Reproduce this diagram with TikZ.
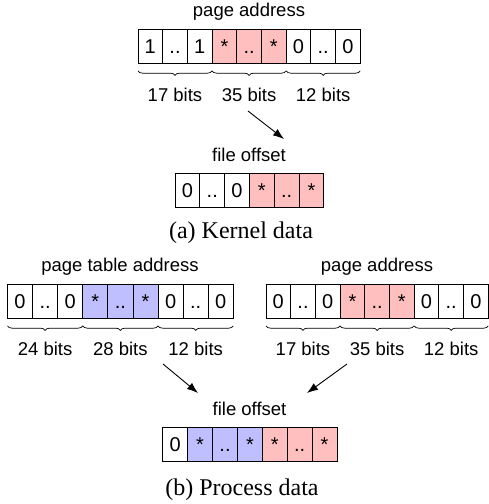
\documentclass[tikz,border=0pt]{standalone}
\usepackage{fontspec}
\setmainfont{Liberation Serif}
\setsansfont{Liberation Sans}
\usetikzlibrary{decorations.pathreplacing,arrows.meta}
\definecolor{pinkc}{HTML}{FFBFBF}
\definecolor{bluec}{HTML}{BFBFFF}
\begin{document}
\begin{tikzpicture}[x=1pt,y=-1pt,
  cell/.style={draw, line width=0.9pt, minimum height=34pt, inner sep=0pt,
    font=\sffamily\fontsize{20}{20}\selectfont, text height=14.4pt, text depth=0pt, anchor=north west},
  lbl/.style={font=\sffamily\fontsize{18.5}{18.5}\selectfont, inner sep=0pt},
  captext/.style={font=\rmfamily\fontsize{24}{24}\selectfont, inner sep=0pt},
  brc/.style={decorate, decoration={brace, mirror, amplitude=4.5pt}, line width=0.7pt},
  arr/.style={-{Latex[length=11pt,width=8pt]}, line width=0.9pt}]
\useasboundingbox (0,0) rectangle (488,504);
% ---------- (a) kernel data ----------
\node[lbl] (pa) at (249,12) {page address};
\foreach \t/\f [count=\i] in {1/white,../white,1/white,*/pinkc,../pinkc,*/pinkc,0/white,../white,0/white}
  \node[cell, fill=\f, minimum width=24.7pt] (a\i) at ({137.5+(\i-1)*24.7},29) {\t};
\draw[brc] ([xshift=0.5pt,yshift=-7pt]a1.south west) -- ([xshift=-0.5pt,yshift=-7pt]a3.south east);
\draw[brc] ([xshift=0.5pt,yshift=-7pt]a4.south west) -- ([xshift=-0.5pt,yshift=-7pt]a6.south east);
\draw[brc] ([xshift=0.5pt,yshift=-7pt]a7.south west) -- ([xshift=-0.5pt,yshift=-7pt]a9.south east);
\node[lbl] (ab1) at ([yshift=-31pt]a2.south) {17 bits};
\node[lbl] (ab2) at ([yshift=-31pt]a5.south) {35 bits};
\node[lbl] (ab3) at ([yshift=-31pt]a8.south) {12 bits};
\node[lbl] (fa) at (249,155) {file offset};
\foreach \t/\f [count=\i] in {0/white,../white,0/white,*/pinkc,../pinkc,*/pinkc}
  \node[cell, fill=\f, minimum width=24.8pt] (c\i) at ({174.6+(\i-1)*24.8},173) {\t};
\coordinate (ka1) at (248,111);
\coordinate (ka2) at (284,139);
\draw[arr] (ka1) -- (ka2);
\node[captext] (capa) at (241,233) {(a) Kernel data};
% ---------- (b) process data ----------
\node[lbl] (pta) at (120,267) {page table address};
\foreach \t/\f [count=\i] in {0/white,../white,0/white,*/bluec,../bluec,*/bluec,0/white,../white,0/white}
  \node[cell, fill=\f, minimum width=25.1pt] (l\i) at ({7+(\i-1)*25.1},284) {\t};
\draw[brc] ([xshift=0.5pt,yshift=-7pt]l1.south west) -- ([xshift=-0.5pt,yshift=-7pt]l3.south east);
\draw[brc] ([xshift=0.5pt,yshift=-7pt]l4.south west) -- ([xshift=-0.5pt,yshift=-7pt]l6.south east);
\draw[brc] ([xshift=0.5pt,yshift=-7pt]l7.south west) -- ([xshift=-0.5pt,yshift=-7pt]l9.south east);
\node[lbl] (lb1) at ([yshift=-30pt]l2.south) {24 bits};
\node[lbl] (lb2) at ([yshift=-30pt]l5.south) {28 bits};
\node[lbl] (lb3) at ([yshift=-30pt]l8.south) {12 bits};
\node[lbl] (pb) at (377,267) {page address};
\foreach \t/\f [count=\i] in {0/white,../white,0/white,*/pinkc,../pinkc,*/pinkc,0/white,../white,0/white}
  \node[cell, fill=\f, minimum width=24.7pt] (r\i) at ({265.5+(\i-1)*24.7},284) {\t};
\draw[brc] ([xshift=0.5pt,yshift=-7pt]r1.south west) -- ([xshift=-0.5pt,yshift=-7pt]r3.south east);
\draw[brc] ([xshift=0.5pt,yshift=-7pt]r4.south west) -- ([xshift=-0.5pt,yshift=-7pt]r6.south east);
\draw[brc] ([xshift=0.5pt,yshift=-7pt]r7.south west) -- ([xshift=-0.5pt,yshift=-7pt]r9.south east);
\node[lbl] (rb1) at ([yshift=-30pt]r2.south) {17 bits};
\node[lbl] (rb2) at ([yshift=-30pt]r5.south) {35 bits};
\node[lbl] (rb3) at ([yshift=-30pt]r8.south) {12 bits};
\node[lbl] (fb) at (249.5,409) {file offset};
\foreach \t/\f [count=\i] in {0/white,*/bluec,../bluec,*/bluec,*/pinkc,../pinkc,*/pinkc}
  \node[cell, fill=\f, minimum width=24.9pt] (f\i) at ({162.3+(\i-1)*24.9},427) {\t};
\coordinate (kb1) at (163,364);
\coordinate (kb2) at (198,393);
\coordinate (kc1) at (347,364);
\coordinate (kc2) at (307,393);
\draw[arr] (kb1) -- (kb2);
\draw[arr] (kc1) -- (kc2);
\node[captext] (capb) at (242,490) {(b) Process data};
\end{tikzpicture}
\end{document}
